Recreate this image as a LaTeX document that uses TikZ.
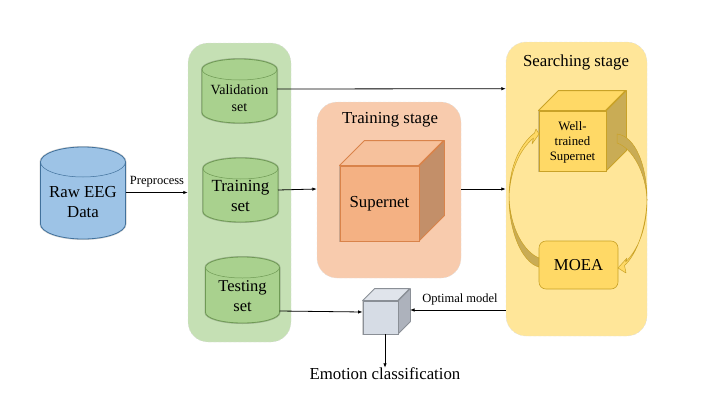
\documentclass[tikz,border=0pt]{standalone}
\usepackage{fontspec}
\setmainfont{Liberation Serif}
\usepackage{xcolor}
\usetikzlibrary{arrows.meta}
\definecolor{rawblue}{HTML}{9DC3E6}
\definecolor{rawedge}{HTML}{41719C}
\definecolor{setpanel}{HTML}{C5E0B4}
\definecolor{setfill}{HTML}{A9D18E}
\definecolor{setedge}{HTML}{6F9A55}
\definecolor{trainpanel}{HTML}{F8CBAD}
\definecolor{trainfill}{HTML}{F4B183}
\definecolor{traintop}{HTML}{F6C19C}
\definecolor{trainside}{HTML}{C38F69}
\definecolor{trainedge}{HTML}{D9834A}
\definecolor{searchpanel}{HTML}{FFE699}
\definecolor{searchfill}{HTML}{FFD966}
\definecolor{searchside}{HTML}{C9AC55}
\definecolor{searchedge}{HTML}{C9A227}
\definecolor{modelfill}{HTML}{D6DCE5}
\definecolor{modeltop}{HTML}{E0E4EB}
\definecolor{modelside}{HTML}{ADB2BC}
\definecolor{modeledge}{HTML}{8A8F96}
% cylinder drawn on the empty node #1: half width #2, lid radius #3, fill #4, edge #5
\newcommand{\storebody}[5]{
  \draw[#5, fill=#4, halo, line width=0.8pt] (#1.north west) ++(0,#3) arc[start angle=180, end angle=360, x radius=#2, y radius=#3] -- ([yshift=#3pt]#1.south east) arc[start angle=0, end angle=180, x radius=#2, y radius=#3] -- cycle;
  \draw[#5, line width=0.5pt] (#1.north west) ++(0,#3) arc[start angle=180, end angle=0, x radius=#2, y radius=#3];
}
\begin{document}
\begin{tikzpicture}[
    x=1pt, y=-1pt,
    panel/.style={rounded corners=20pt, draw=white!75!gray, densely dashed, line width=0.4pt, inner sep=0pt},
    halo/.style={preaction={draw=black, opacity=0.18, line width=2pt}},
    store/.style={inner sep=0pt, outer sep=0pt},
    storetext/.style={inner sep=0pt, align=center},
    flow/.style={-{Latex[length=4.5pt,width=3.5pt]}, line width=0.8pt, black},
    steplabel/.style={font=\fontsize{12.5}{14}\selectfont, inner sep=0pt},
    stagelabel/.style={font=\fontsize{16.8}{18}\selectfont, inner sep=0pt}
]
\useasboundingbox (0,0) rectangle (704,407);

% stage panels
\node[panel, fill=setpanel, minimum width=103pt, minimum height=299pt] (sets) at (239.5,192.5) {};
\node[panel, fill=trainpanel, minimum width=144pt, minimum height=176pt] (train) at (389,190) {};
\node[panel, fill=searchpanel, minimum width=141pt, minimum height=294pt] (search) at (576.5,189) {};

% data stores
\node[store, minimum width=85pt, minimum height=92pt] (raw) at (83,193) {};
\node[store, minimum width=75pt, minimum height=64pt] (val) at (239.5,91) {};
\node[store, minimum width=75pt, minimum height=64pt] (tra) at (240.5,190) {};
\node[store, minimum width=74pt, minimum height=66pt] (tes) at (242.5,290) {};
\storebody{raw}{42.5}{15}{rawblue}{rawedge}
\storebody{val}{37.5}{10.5}{setfill}{setedge}
\storebody{tra}{37.5}{10.5}{setfill}{setedge}
\storebody{tes}{37}{10.5}{setfill}{setedge}
\node[storetext, font=\fontsize{16.8}{20}\selectfont] (rawtext) at (83,202) {Raw EEG\\Data};
\node[storetext, font=\fontsize{14}{16.5}\selectfont] (valtext) at (239.5,98) {Validation\\set};
\node[storetext, font=\fontsize{17}{20}\selectfont] (tratext) at (240.5,196) {Training\\set};
\node[storetext, font=\fontsize{16.5}{20.5}\selectfont] (testext) at (242.5,296) {Testing\\set};

% boxes
\node[draw=trainedge, fill=trainfill, halo, line width=0.9pt, minimum width=79pt, minimum height=75pt, inner sep=0pt, font=\fontsize{16.8}{18}\selectfont] (snet) at (379.5,203.5) {\raisebox{-2pt}{Supernet}};
\node[draw=searchedge, fill=searchfill, halo, line width=0.9pt, minimum width=67pt, minimum height=60pt, inner sep=0pt, align=center, font=\fontsize{12.8}{15}\selectfont] (well) at (572.5,141) {\rule{0pt}{12.7pt}Well-\\trained\\Supernet};
\node[draw=modeledge, fill=modelfill, halo, line width=0.8pt, minimum width=35pt, minimum height=33pt, inner sep=0pt] (cube) at (380.5,317.5) {};
\draw[trainedge, line width=0.9pt, line join=round, fill=traintop] (snet.north west) -- ++(25,-25) -- ++(79,0) -- ++(-25,25) -- cycle;
\draw[trainedge, line width=0.9pt, line join=round, fill=trainside] (snet.north east) -- ++(25,-25) -- ++(0,75) -- ++(-25,25) -- cycle;
\draw[searchedge, line width=0.9pt, line join=round, fill=searchfill] (well.north west) -- ++(20,-20) -- ++(67,0) -- ++(-20,20) -- cycle;
\draw[searchedge, line width=0.9pt, line join=round, fill=searchside] (well.north east) -- ++(20,-20) -- ++(0,60) -- ++(-20,20) -- cycle;
\draw[modeledge, line width=0.8pt, line join=round, fill=modeltop] (cube.north west) -- ++(12,-12) -- ++(35,0) -- ++(-12,12) -- cycle;
\draw[modeledge, line width=0.8pt, line join=round, fill=modelside] (cube.north east) -- ++(12,-12) -- ++(0,33) -- ++(-12,12) -- cycle;

\node[draw=searchedge, fill=searchfill, rounded corners=7pt, line width=0.6pt, minimum width=79pt, minimum height=48pt, inner sep=0pt, font=\fontsize{16.7}{18}\selectfont] (moea) at (578.5,265) {\raisebox{-2pt}{MOEA}};

% curved arrows between the supernet and the MOEA
\fill[searchside, draw=searchedge, line width=0.5pt] (moea.west) ++(0,2) .. controls (522,262) and (509,232) .. (509,197) .. controls (510,228) and (524,252) .. (539,258) -- cycle;
\draw[searchedge, fill=searchfill, line width=0.5pt, line join=round] (509,197) .. controls (509,170) and (518,146) .. (534.5,133) -- (536,129) -- (539,134) -- (532,144) -- (533.5,138) .. controls (519,150) and (510,172) .. (509,197) -- cycle;
\fill[searchside, draw=searchedge, line width=0.5pt] (617,134) .. controls (635,136) and (647,165) .. (647,200) .. controls (646,172) and (632,148) .. (617,143) -- cycle;
\draw[searchedge, fill=searchfill, line width=0.5pt, line join=round] (647,200) .. controls (647,228) and (638,250) .. (625.5,262) -- (627,258) -- (618,268) -- (626,273) -- (624.5,265.5) .. controls (637,254) and (646,228) .. (647,200) -- cycle;

% connectors
\draw[flow] (raw.east |- 0,192.5) -- (sets.west |- 0,192.5);
\draw[flow] (val.east |- 0,89) -- (search.west |- 0,88.7);
\draw[flow] (tra.east |- 0,190) -- (train.west |- 0,189);
\draw[flow] (train.east |- 0,189) -- (search.west |- 0,189);
\draw[flow] (tes.east |- 0,311) -- (cube.west |- 0,312);
\coordinate (cubeside) at (410,310);
\draw[flow] (search.west |- 0,310) -- (cubeside);
\node[inner sep=0pt, font=\fontsize{16.8}{18}\selectfont] (emo) at (385,374) {Emotion classification};
\draw[flow] (cube.south -| emo) -- (emo.north);

% labels
\node[steplabel] (pre) at (157,182) {Preprocess};
\node[steplabel] (opt) at (460,299) {Optimal model};
\node[stagelabel] (tlabel) at (390,119.5) {Training stage};
\node[stagelabel] (slabel) at (576,62.5) {Searching stage};
\end{tikzpicture}
\end{document}
